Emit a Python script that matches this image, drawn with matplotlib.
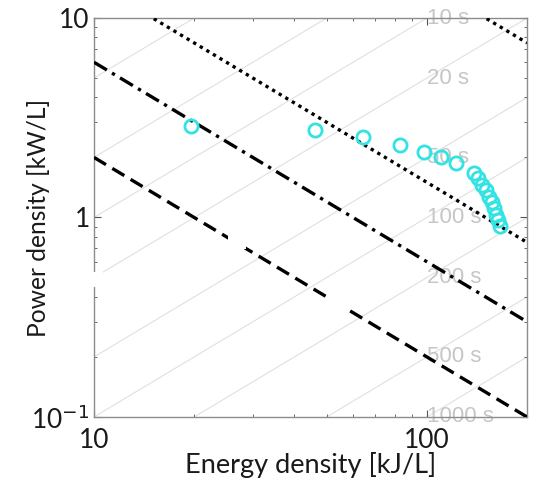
import matplotlib
matplotlib.use("Agg")
import matplotlib.pyplot as plt
import numpy as np
from matplotlib.patches import Rectangle
from matplotlib.ticker import FixedLocator, FixedFormatter, LogLocator, NullFormatter

# measured points (energy density kJ/L, power density kW/L)
energy = [19.6, 46.0, 64.4, 83.0, 98.2, 110.0, 122.0,
          138.7, 142.6, 146.6, 150.7, 153.9, 157.0, 159.2, 161.4, 163.7, 166.0]
power = [2.86, 2.73, 2.54, 2.30, 2.12, 2.01, 1.88,
         1.68, 1.57, 1.46, 1.37, 1.27, 1.19, 1.11, 1.035, 0.966, 0.902]

# constant discharge-time guides [s]
times = [1, 2, 5, 10, 20, 50, 100, 200, 500, 1000]
labelled_times = [10, 20, 50, 100, 200, 500, 1000]

# black reference lines, end points
line_e = [10, 200]
dotted_p = [15.0, 0.75]
dotted2_p = [150.0, 7.5]
dashdot_p = [6.0, 0.30]
dashed_p = [2.0, 0.10]

plt.rcParams["font.family"] = ["Lato", "DejaVu Sans"]

fig = plt.figure(figsize=(5.38, 4.8), dpi=100)
ax = fig.add_axes([0.1747, 0.1313, 0.805, 0.8312])

e_span = np.array([10.0, 200.0])
for t in times:
    ax.plot(e_span, e_span / t, color="#e0e0e0", lw=0.8, zorder=1)
for t in labelled_times:
    ax.text(100, 100 / t, f"{t} s", color="#c6c6c6", fontsize=16,
            family="Liberation Sans", ha="left", va="center", zorder=2)

ax.plot(line_e, dotted_p, color="black", lw=2.4, ls=(0, (1, 1.3)), zorder=3)
ax.plot(line_e, dotted2_p, color="black", lw=2.4, ls=(0, (1, 1.3)), zorder=3)
ax.plot(line_e, dashdot_p, color="black", lw=2.4, ls=(0, (4.5, 1.8, 1, 1.8)), zorder=3)
ax.plot(line_e, dashed_p, color="black", lw=2.4, ls=(0, (4.2, 2.2)), zorder=3)

ax.plot(energy, power, ls="none", marker="o", ms=9.5, mfc="none",
        mec="#33e3e3", mew=2.0, zorder=4)

ax.set_xscale("log")
ax.set_yscale("log")
ax.set_xlim(10, 200)
ax.set_ylim(0.1, 10)

ax.xaxis.set_major_locator(FixedLocator([10, 100]))
ax.xaxis.set_major_formatter(FixedFormatter(["10", "100"]))
ax.yaxis.set_major_locator(FixedLocator([0.1, 1, 10]))
ax.yaxis.set_major_formatter(FixedFormatter(["10$^{-1}$", "1", "10"]))
ax.xaxis.set_minor_locator(LogLocator(base=10, subs=np.arange(2, 10)))
ax.yaxis.set_minor_locator(LogLocator(base=10, subs=np.arange(2, 10)))
ax.xaxis.set_minor_formatter(NullFormatter())
ax.yaxis.set_minor_formatter(NullFormatter())

ax.tick_params(which="both", direction="in", top=True, right=True,
               color="#555555", labelsize=19, labelcolor="#1a1a1a")
ax.tick_params(axis="y", pad=3)
ax.tick_params(axis="x", pad=8)
ax.tick_params(which="major", length=5)
ax.tick_params(which="minor", length=2.5)
for s in ax.spines.values():
    s.set_color("#8c8c8c")
    s.set_linewidth(1.0)

ax.set_xlabel("Energy density [kJ/L]", fontsize=19.5, color="#1a1a1a", va="center")
ax.set_ylabel("Power density [kW/L]", fontsize=17.7, color="#1a1a1a", va="center")
ax.xaxis.set_label_coords(0.5, -0.12)
ax.yaxis.set_label_coords(-0.127, 0.5)

# blank patches that cover parts of the original figure
for x0, y0, w, h in [(-0.02, 0.326, 0.04, 0.037),
                     (0.31, 0.42, 0.04, 0.05),
                     (0.54, 0.27, 0.06, 0.05)]:
    ax.add_patch(Rectangle((x0, y0), w, h, transform=ax.transAxes,
                           facecolor="white", edgecolor="none",
                           clip_on=False, zorder=10))

fig.savefig("out.png", dpi=100)
